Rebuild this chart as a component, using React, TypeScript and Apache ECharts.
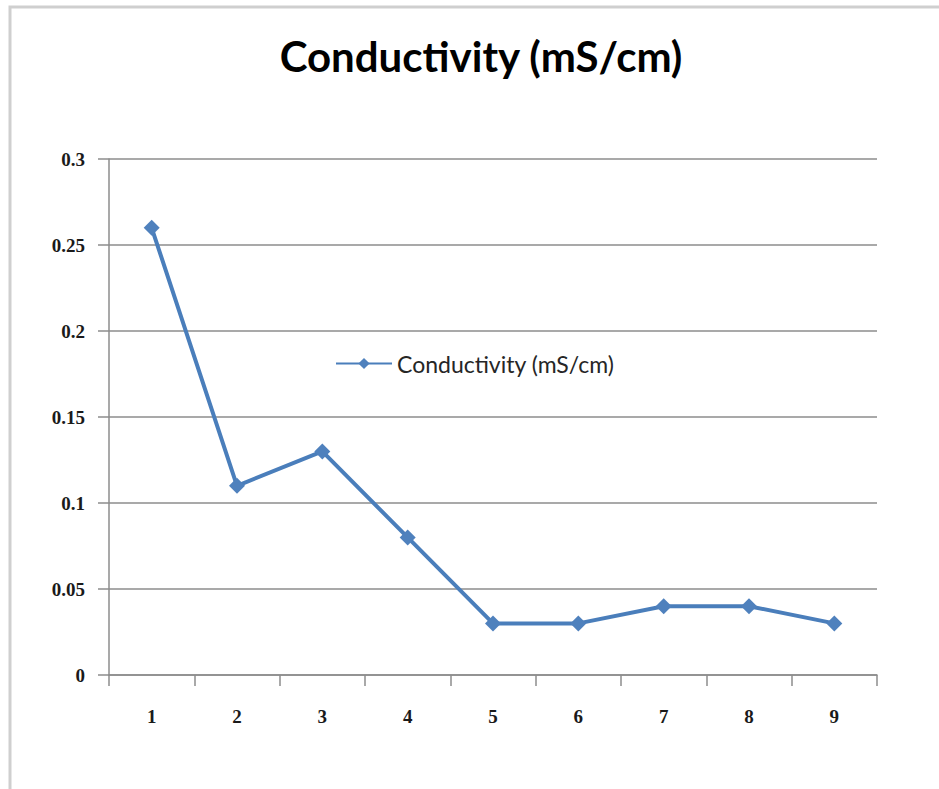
import React, { useEffect, useRef } from "react";
import * as echarts from "echarts";

const categories = ["1", "2", "3", "4", "5", "6", "7", "8", "9"];
const conductivity = [0.26, 0.11, 0.13, 0.08, 0.03, 0.03, 0.04, 0.04, 0.03];
const seriesName = "Conductivity (mS/cm)";
const titleText = "Conductivity (mS/cm)";

export default function App() {
  const ref = useRef<HTMLDivElement>(null);
  useEffect(() => {
    if (!ref.current) return;
    const chart = echarts.init(ref.current, undefined, { renderer: "svg" });
    chart.setOption({
      animation: false,
      backgroundColor: "#ffffff",
      graphic: [
        {
          type: "rect",
          shape: { x: 10, y: 7, width: 1000, height: 1000 },
          style: { fill: "none", stroke: "#cfcfcf", lineWidth: 3 },
          z: -1,
        },
        {
          type: "text",
          x: 481,
          y: 56,
          style: {
            text: titleText,
            font: "bold 42px Lato",
            fill: "#000000",
            textAlign: "center",
            textVerticalAlign: "middle",
          },
        },
      ],
      legend: {
        left: 330,
        top: 347,
        itemWidth: 56,
        itemHeight: 14,
        itemGap: 4,
        textStyle: { fontFamily: "Lato", fontSize: 23, color: "#262626" },
        data: [seriesName],
      },
      grid: { left: 109, right: 62, top: 159, bottom: 114, containLabel: false },
      xAxis: {
        type: "category",
        data: categories,
        boundaryGap: true,
        axisLine: { lineStyle: { color: "#8c8c8c", width: 1.5 } },
        axisTick: { show: true, length: 11, lineStyle: { color: "#8c8c8c", width: 1.5 } },
        axisLabel: {
          margin: 32,
          fontFamily: "Liberation Serif",
          fontWeight: "bold",
          fontSize: 19,
          color: "#1a1a1a",
        },
      },
      yAxis: {
        type: "value",
        min: 0,
        max: 0.3,
        interval: 0.05,
        axisLine: { show: true, lineStyle: { color: "#8c8c8c", width: 1.5 } },
        axisTick: { show: true, length: 11, lineStyle: { color: "#8c8c8c", width: 1.5 } },
        splitLine: { show: true, lineStyle: { color: "#8c8c8c", width: 1.5 } },
        axisLabel: {
          margin: 24,
          fontFamily: "Liberation Serif",
          fontWeight: "bold",
          fontSize: 19,
          color: "#1a1a1a",
          formatter: (v: number) => String(Math.round(v * 100) / 100),
        },
      },
      series: [
        {
          name: seriesName,
          type: "line",
          data: conductivity,
          symbol: "diamond",
          symbolSize: 16,
          lineStyle: { color: "#4a7ebb", width: 4 },
          itemStyle: { color: "#4f81bd" },
        },
      ],
    });
    return () => chart.dispose();
  }, []);
  return (
    <div
      ref={ref}
      style={{ position: "absolute", left: 0, top: 0, width: 939, height: 789 }}
    />
  );
}
